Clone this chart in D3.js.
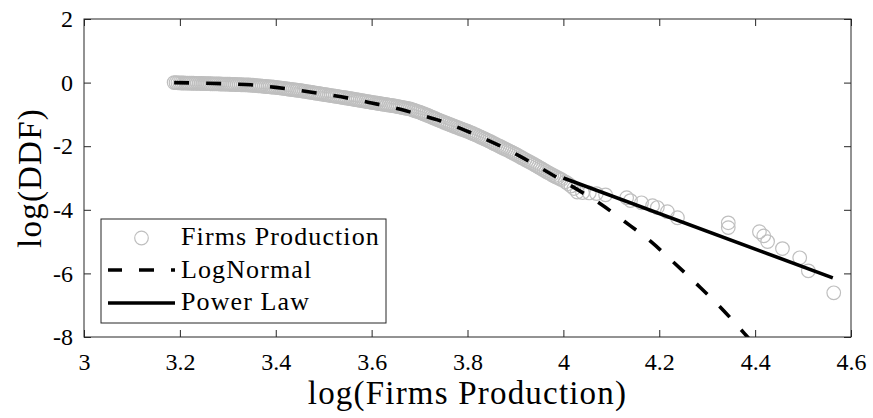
<!DOCTYPE html>
<meta charset="utf-8">
<script src="https://d3js.org/d3.v7.min.js"></script>
<style>
  body { margin: 0; background: #fff; }
  svg text { font-family: "Liberation Serif", "DejaVu Serif", serif; }
</style>
<div id="my_dataviz"></div>
<script>

// tick values and labels
var xTicks = [3, 3.2, 3.4, 3.6, 3.8, 4, 4.2, 4.4, 4.6];
var yTicks = [-8, -6, -4, -2, 0, 2];
var legendLabels = ["Firms Production", "LogNormal", "Power Law"];

// observed points: [log(production), log(DDF)]
var firmsProduction = [
  [3.188,0.000],[3.192,-0.003],[3.196,-0.007],[3.200,-0.010],[3.204,-0.012],[3.208,-0.013],[3.212,-0.015],[3.216,-0.016],
  [3.220,-0.018],[3.224,-0.020],[3.228,-0.021],[3.232,-0.023],[3.236,-0.024],[3.240,-0.026],[3.244,-0.028],[3.248,-0.029],
  [3.252,-0.031],[3.256,-0.032],[3.260,-0.034],[3.264,-0.036],[3.268,-0.037],[3.272,-0.039],[3.276,-0.040],[3.280,-0.042],
  [3.284,-0.044],[3.288,-0.045],[3.292,-0.047],[3.296,-0.048],[3.300,-0.050],[3.304,-0.052],[3.308,-0.055],[3.312,-0.057],
  [3.316,-0.060],[3.320,-0.062],[3.324,-0.064],[3.328,-0.067],[3.332,-0.069],[3.336,-0.072],[3.340,-0.074],[3.344,-0.076],
  [3.348,-0.079],[3.352,-0.083],[3.356,-0.088],[3.360,-0.094],[3.364,-0.100],[3.368,-0.105],[3.372,-0.111],[3.376,-0.116],
  [3.380,-0.122],[3.384,-0.128],[3.388,-0.133],[3.392,-0.139],[3.396,-0.144],[3.400,-0.150],[3.404,-0.158],[3.408,-0.166],
  [3.412,-0.174],[3.416,-0.182],[3.420,-0.190],[3.424,-0.198],[3.428,-0.206],[3.432,-0.214],[3.436,-0.222],[3.440,-0.230],
  [3.444,-0.238],[3.448,-0.246],[3.452,-0.255],[3.456,-0.264],[3.460,-0.274],[3.464,-0.284],[3.468,-0.293],[3.472,-0.303],
  [3.476,-0.312],[3.480,-0.322],[3.484,-0.332],[3.488,-0.341],[3.492,-0.351],[3.496,-0.360],[3.500,-0.370],[3.504,-0.380],
  [3.508,-0.389],[3.512,-0.399],[3.516,-0.408],[3.520,-0.418],[3.524,-0.428],[3.528,-0.437],[3.532,-0.447],[3.536,-0.456],
  [3.540,-0.466],[3.544,-0.476],[3.548,-0.485],[3.552,-0.495],[3.556,-0.506],[3.560,-0.516],[3.564,-0.526],[3.568,-0.537],
  [3.572,-0.547],[3.576,-0.558],[3.580,-0.568],[3.584,-0.578],[3.588,-0.589],[3.592,-0.599],[3.596,-0.610],[3.600,-0.620],
  [3.604,-0.630],[3.608,-0.639],[3.612,-0.649],[3.616,-0.658],[3.620,-0.668],[3.624,-0.678],[3.628,-0.687],[3.632,-0.697],
  [3.636,-0.706],[3.640,-0.716],[3.644,-0.726],[3.648,-0.735],[3.652,-0.746],[3.656,-0.758],[3.660,-0.770],[3.664,-0.782],
  [3.668,-0.794],[3.672,-0.806],[3.676,-0.818],[3.680,-0.830],[3.684,-0.850],[3.688,-0.870],[3.692,-0.890],[3.696,-0.910],
  [3.700,-0.930],[3.704,-0.954],[3.708,-0.978],[3.712,-1.002],[3.716,-1.026],[3.720,-1.050],[3.724,-1.076],[3.728,-1.102],
  [3.732,-1.128],[3.736,-1.154],[3.740,-1.180],[3.744,-1.204],[3.748,-1.228],[3.752,-1.252],[3.756,-1.276],[3.760,-1.300],
  [3.764,-1.324],[3.768,-1.348],[3.772,-1.372],[3.776,-1.396],[3.780,-1.420],[3.784,-1.442],[3.788,-1.464],[3.792,-1.486],
  [3.796,-1.508],[3.800,-1.530],[3.804,-1.556],[3.808,-1.582],[3.812,-1.608],[3.816,-1.634],[3.820,-1.660],[3.824,-1.688],
  [3.828,-1.716],[3.832,-1.744],[3.836,-1.772],[3.840,-1.800],[3.844,-1.830],[3.848,-1.860],[3.852,-1.890],[3.856,-1.920],
  [3.860,-1.950],[3.864,-1.980],[3.868,-2.010],[3.872,-2.040],[3.876,-2.070],[3.880,-2.100],[3.884,-2.130],[3.888,-2.160],
  [3.892,-2.190],[3.896,-2.220],[3.900,-2.250],[3.904,-2.284],[3.908,-2.318],[3.912,-2.352],[3.916,-2.386],[3.920,-2.420],
  [3.924,-2.452],[3.928,-2.484],[3.932,-2.516],[3.936,-2.548],[3.940,-2.580],[3.944,-2.616],[3.948,-2.652],[3.952,-2.688],
  [3.956,-2.724],[3.960,-2.760],[3.964,-2.794],[3.968,-2.828],[3.972,-2.862],[3.976,-2.896],[3.980,-2.930],[3.984,-2.960],
  [3.988,-2.990],[3.992,-3.020],[3.996,-3.050],[4.004,-3.120],[4.010,-3.180],[4.016,-3.250],[4.022,-3.330],[4.029,-3.440],
  [4.040,-3.460],[4.054,-3.470],[4.069,-3.490],[4.088,-3.530],[4.132,-3.620],[4.140,-3.710],[4.163,-3.780],[4.186,-3.870],
  [4.196,-3.930],[4.217,-4.060],[4.238,-4.250],[4.344,-4.410],[4.344,-4.560],[4.409,-4.690],[4.418,-4.820],[4.426,-5.000],
  [4.457,-5.220],[4.493,-5.510],[4.511,-5.920],[4.564,-6.610]
];

// fitted curves
var logNormalFit = [
  [3.188,0.00],[3.25,-0.02],[3.30,-0.04],[3.347,-0.07],[3.40,-0.15],[3.451,-0.25],[3.50,-0.36],[3.555,-0.50],
  [3.60,-0.64],[3.66,-0.84],[3.70,-1.01],[3.743,-1.20],[3.806,-1.57],[3.868,-1.99],[3.91,-2.32],[3.952,-2.68],
  [3.994,-3.05],[4.04,-3.46],[4.077,-3.81],[4.127,-4.36],[4.184,-5.02],[4.232,-5.68],[4.28,-6.36],[4.326,-7.04],
  [4.38,-7.93],[4.39,-8.10]
];
var powerLawFit = [[4.0,-3.0],[4.562,-6.14]];

var margin = {top: 19, right: 22, bottom: 81, left: 84},
    width = 873 - margin.left - margin.right,
    height = 418 - margin.top - margin.bottom;

var axisColor = "#262626";

var svg = d3.select("#my_dataviz")
  .append("svg")
    .attr("width", width + margin.left + margin.right)
    .attr("height", height + margin.top + margin.bottom)
  .append("g")
    .attr("transform", "translate(" + margin.left + "," + margin.top + ")");

var x = d3.scaleLinear().domain([3, 4.6]).range([0, width]);
var y = d3.scaleLinear().domain([-8, 2]).range([height, 0]);

svg.append("clipPath").attr("id", "plotclip")
  .append("rect").attr("width", width).attr("height", height);

var plot = svg.append("g").attr("clip-path", "url(#plotclip)");

// scatter of firms
plot.append("g")
  .selectAll("circle")
  .data(firmsProduction)
  .enter()
  .append("circle")
    .attr("cx", function(d) { return x(d[0]); })
    .attr("cy", function(d) { return y(d[1]); })
    .attr("r", 6.8)
    .style("fill", "none")
    .style("stroke", "#bfbfbf")
    .style("stroke-width", 1.2);

var line = d3.line()
  .x(function(d) { return x(d[0]); })
  .y(function(d) { return y(d[1]); });

plot.append("path")
  .datum(logNormalFit)
  .attr("d", line.curve(d3.curveMonotoneX))
  .style("fill", "none")
  .style("stroke", "#000")
  .style("stroke-width", 3.6)
  .style("stroke-dasharray", "15,17");

plot.append("path")
  .datum(powerLawFit)
  .attr("d", d3.line().x(function(d) { return x(d[0]); }).y(function(d) { return y(d[1]); }))
  .style("fill", "none")
  .style("stroke", "#000")
  .style("stroke-width", 3.6);

// axes, ticks pointing inwards on all four sides
function styleAxis(g) {
  g.attr("font-family", null).attr("font-size", null);
  g.select(".domain").remove();
  g.selectAll(".tick line").attr("stroke", axisColor);
  g.selectAll("text")
    .attr("fill", "#000")
    .style("font-size", "24px");
}

svg.append("g")
  .attr("transform", "translate(0," + height + ")")
  .call(d3.axisBottom(x).tickValues(xTicks).tickFormat(d3.format("")).tickSizeInner(-7).tickSizeOuter(0).tickPadding(16))
  .call(styleAxis);

svg.append("g")
  .call(d3.axisLeft(y).tickValues(yTicks).tickFormat(function(d) { return String(d); }).tickSizeInner(-7).tickSizeOuter(0).tickPadding(11))
  .call(styleAxis);

svg.append("g")
  .call(d3.axisTop(x).tickValues(xTicks).tickFormat("").tickSizeInner(-7).tickSizeOuter(0))
  .call(styleAxis);

svg.append("g")
  .attr("transform", "translate(" + width + ",0)")
  .call(d3.axisRight(y).tickValues(yTicks).tickFormat("").tickSizeInner(-7).tickSizeOuter(0))
  .call(styleAxis);

svg.append("rect")
  .attr("width", width)
  .attr("height", height)
  .style("fill", "none")
  .style("stroke", axisColor)
  .style("stroke-width", 1);

// axis titles
svg.append("text")
  .attr("x", width / 2)
  .attr("y", height + 67)
  .attr("text-anchor", "middle")
  .style("font-size", "33px")
  .style("letter-spacing", "1.2px")
  .text("log(Firms Production)");

svg.append("text")
  .attr("transform", "translate(" + (41 - margin.left) + "," + (height / 2) + ") rotate(-90)")
  .attr("text-anchor", "middle")
  .style("font-size", "33px")
  .style("letter-spacing", "1.2px")
  .text("log(DDF)");

// legend
var legend = svg.append("g").attr("transform", "translate(" + (101 - margin.left) + "," + (219 - margin.top) + ")");
legend.append("rect")
  .attr("width", 285)
  .attr("height", 104)
  .style("fill", "#fff")
  .style("stroke", axisColor)
  .style("stroke-width", 1);

legend.append("circle")
  .attr("cx", 40.5).attr("cy", 19).attr("r", 6.8)
  .style("fill", "none").style("stroke", "#bfbfbf").style("stroke-width", 1.2);
legend.append("line")
  .attr("x1", 7).attr("x2", 74).attr("y1", 51).attr("y2", 51)
  .style("stroke", "#000").style("stroke-width", 3.6)
  .style("stroke-dasharray", "15,17").style("stroke-dashoffset", 1);
legend.append("line")
  .attr("x1", 7).attr("x2", 74).attr("y1", 84).attr("y2", 84)
  .style("stroke", "#000").style("stroke-width", 3.6);

legend.selectAll("text.lab")
  .data(legendLabels)
  .enter()
  .append("text")
    .attr("class", "lab")
    .attr("x", 80)
    .attr("y", function(d, i) { return [26, 59, 91][i]; })
    .style("font-size", "26px")
    .style("letter-spacing", "1.1px")
    .text(function(d) { return d; });

</script>
